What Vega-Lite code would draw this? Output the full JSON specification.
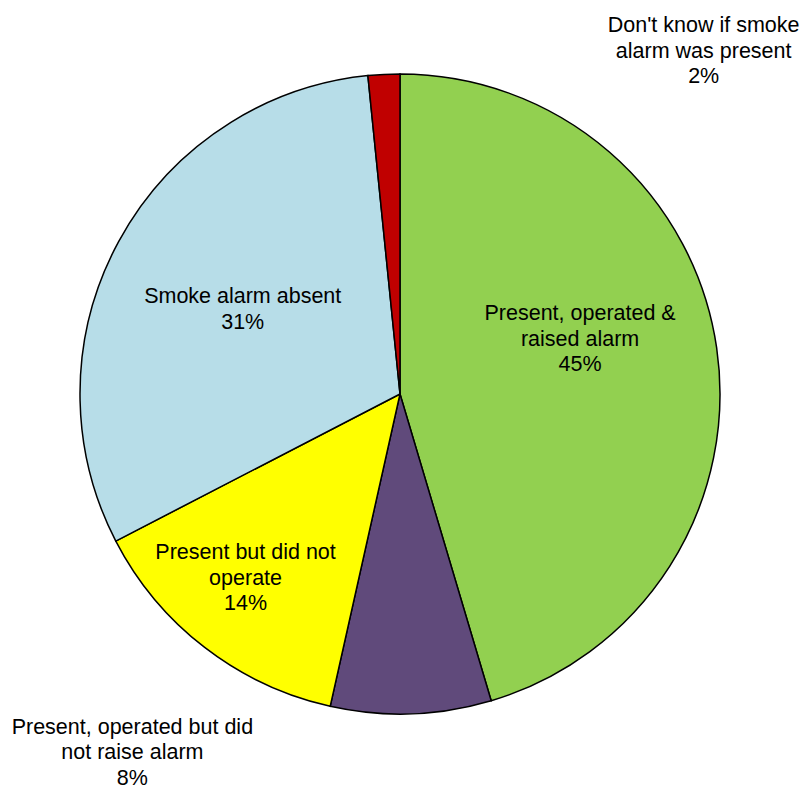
{
  "$schema": "https://vega.github.io/schema/vega-lite/v6.json",
  "width": 800,
  "height": 788,
  "padding": 0,
  "autosize": "none",
  "background": "white",
  "config": {"view": {"stroke": null}},
  "data": {
    "values": [
      {"cat": "Present, operated & raised alarm", "ord": 1, "value": 45.4, "label": "Present, operated &\nraised alarm\n45%"},
      {"cat": "Present, operated but did not raise alarm", "ord": 2, "value": 8.1, "label": "Present, operated but did\nnot raise alarm\n8%"},
      {"cat": "Present but did not operate", "ord": 3, "value": 13.9, "label": "Present but did not\noperate\n14%"},
      {"cat": "Smoke alarm absent", "ord": 4, "value": 31.0, "label": "Smoke alarm absent\n31%"},
      {"cat": "Don't know if smoke alarm was present", "ord": 5, "value": 1.6, "label": "Don't know if smoke\nalarm was present\n2%"}
    ]
  },
  "encoding": {
    "theta": {"field": "value", "type": "quantitative", "stack": true},
    "order": {"field": "ord", "type": "quantitative"}
  },
  "layer": [
    {
      "mark": {"type": "arc", "outerRadius": 320, "stroke": "black", "strokeWidth": 1.5},
      "encoding": {
        "color": {
          "field": "cat",
          "type": "nominal",
          "scale": {
            "domain": ["Present, operated & raised alarm", "Present, operated but did not raise alarm", "Present but did not operate", "Smoke alarm absent", "Don't know if smoke alarm was present"],
            "range": ["#92D050", "#604A7B", "#FFFF00", "#B7DDE8", "#C00000"]
          },
          "legend": null
        }
      }
    },
    {
      "mark": {"type": "text", "radius": 185, "dx": -3, "dy": -53, "fontSize": 21.5, "font": "Liberation Sans", "lineHeight": 25.5, "lineBreak": "\n", "align": "center", "baseline": "middle", "color": "black"},
      "encoding": {"text": {"condition": {"test": "datum.ord === 1", "field": "label"}, "value": ""}}
    },
    {
      "mark": {"type": "text", "radius": 358, "dx": -280, "dy": -24, "fontSize": 21.5, "font": "Liberation Sans", "lineHeight": 25.5, "lineBreak": "\n", "align": "center", "baseline": "middle", "color": "black"},
      "encoding": {"text": {"condition": {"test": "datum.ord === 2", "field": "label"}, "value": ""}}
    },
    {
      "mark": {"type": "text", "radius": 235, "dx": -11, "dy": -27, "fontSize": 21.5, "font": "Liberation Sans", "lineHeight": 25.5, "lineBreak": "\n", "align": "center", "baseline": "middle", "color": "black"},
      "encoding": {"text": {"condition": {"test": "datum.ord === 3", "field": "label"}, "value": ""}}
    },
    {
      "mark": {"type": "text", "radius": 180, "dx": 1, "dy": -11, "fontSize": 21.5, "font": "Liberation Sans", "lineHeight": 25.5, "lineBreak": "\n", "align": "center", "baseline": "middle", "color": "black"},
      "encoding": {"text": {"condition": {"test": "datum.ord === 4", "field": "label"}, "value": ""}}
    },
    {
      "mark": {"type": "text", "radius": 345, "dx": 321, "dy": -23, "fontSize": 21.5, "font": "Liberation Sans", "lineHeight": 25.5, "lineBreak": "\n", "align": "center", "baseline": "middle", "color": "black"},
      "encoding": {"text": {"condition": {"test": "datum.ord === 5", "field": "label"}, "value": ""}}
    }
  ]
}
